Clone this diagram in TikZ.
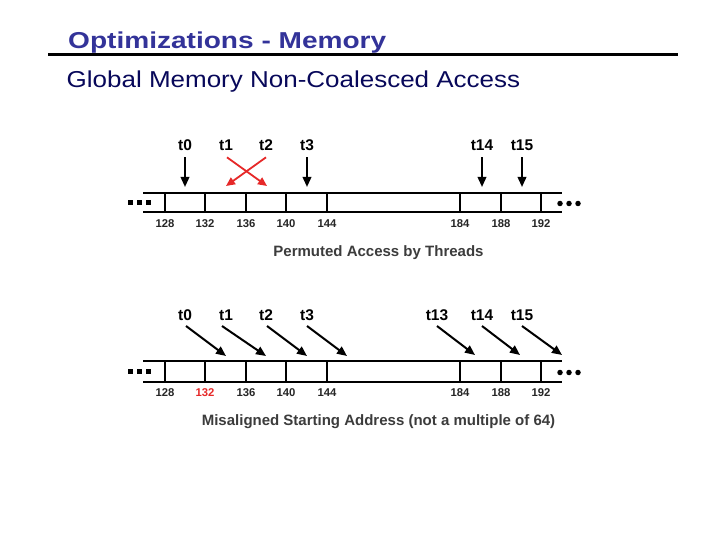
\documentclass[tikz,border=0pt]{standalone}
\usepackage{fontspec}
\setmainfont{Liberation Sans}
\newfontfamily\titlefont[FakeStretch=1.22]{Liberation Sans}
\newfontfamily\subfont[FakeStretch=1.13]{Liberation Sans}
\usetikzlibrary{arrows.meta}
\definecolor{titleblue}{RGB}{51,51,153}
\definecolor{subnavy}{RGB}{8,8,90}
\definecolor{capgray}{RGB}{60,60,60}
\definecolor{accred}{RGB}{230,40,40}
\begin{document}
\begin{tikzpicture}[x=1pt,y=-1pt,
  thr/.style={font=\fontsize{15.5}{15.5}\selectfont\bfseries, anchor=base, inner sep=0pt},
  addr/.style={font=\fontsize{11.3}{11.3}\selectfont\bfseries, anchor=base, inner sep=0pt, text=black!85},
  capt/.style={font=\fontsize{15}{15}\selectfont\bfseries, text=capgray, anchor=base, inner sep=0pt},
  acc/.style={-{Triangle[length=10pt,width=8.5pt]}, line width=2pt, draw=black},
  racc/.style={-{Triangle[length=9pt,width=8pt]}, line width=1.8pt, draw=accred},
  strip/.style={line width=2.2pt},
  sqdot/.style={fill=black, minimum size=5pt, inner sep=0pt},
  rddot/.style={fill=black, circle, minimum size=5.5pt, inner sep=0pt}]
\useasboundingbox (0,0) rectangle (720,540);
\fill[white] (0,0) rectangle (720,540);

% title
\draw[line width=3.5pt] (48,54.5) -- (678,54.5);
\node[anchor=base west, inner sep=0pt, text=titleblue,
  font=\titlefont\fontsize{23}{23}\selectfont\bfseries] (title) at (68,48.8) {Optimizations - Memory};
\node[anchor=base west, inner sep=0pt, text=subnavy,
  font=\subfont\fontsize{23}{23}\selectfont] (subtitle) at (66.5,87.7) {Global Memory Non-Coalesced Access};

% ---------- top strip ----------
\draw[strip] (143,193) -- (562,193);
\draw[strip] (143,212) -- (562,212);
\foreach \x in {165,205,246,286,327,460,501,541}
  \draw[strip] (\x,193) -- (\x,212);
\node[sqdot] (ld1) at (130,202.5) {};
\node[sqdot] (ld2) at (139,202.5) {};
\node[sqdot] (ld3) at (148,202.5) {};
\node[rddot] (rd1) at (560,203.5) {};
\node[rddot] (rd2) at (569,203.5) {};
\node[rddot] (rd3) at (578,203.5) {};

\node[thr] (a0) at (185,151) {t0};
\node[thr] (a1) at (226,151) {t1};
\node[thr] (a2) at (266,151) {t2};
\node[thr] (a3) at (307,151) {t3};
\node[thr] (a14) at (482,151) {t14};
\node[thr] (a15) at (522,151) {t15};

\coordinate (ae0) at (185,187);
\coordinate (ae1) at (267,186);
\coordinate (ae2) at (226,186);
\coordinate (ae3) at (307,187);
\coordinate (ae14) at (482,187);
\coordinate (ae15) at (522,187);
\draw[acc] ([yshift=-6pt]a0.south) -- (ae0);
\draw[acc] ([yshift=-6pt]a3.south) -- (ae3);
\draw[acc] ([yshift=-6pt]a14.south) -- (ae14);
\draw[acc] ([yshift=-6pt]a15.south) -- (ae15);
\draw[racc] ([xshift=1pt,yshift=-6pt]a1.south) -- (ae1);
\draw[racc] ([yshift=-6pt]a2.south) -- (ae2);

\foreach \x/\t in {165/128,205/132,246/136,286/140,327/144,460/184,501/188,541/192}
  \node[addr] (pa\t) at (\x,228) {\t};
\node[capt] (cap1) at (378.5,256) {Permuted Access by Threads};

% ---------- bottom strip ----------
\draw[strip] (143,361) -- (562,361);
\draw[strip] (143,382) -- (562,382);
\foreach \x in {165,205,246,286,327,460,501,541}
  \draw[strip] (\x,361) -- (\x,382);
\node[sqdot] (bld1) at (130,371.5) {};
\node[sqdot] (bld2) at (139,371.5) {};
\node[sqdot] (bld3) at (148,371.5) {};
\node[rddot] (brd1) at (560,372.5) {};
\node[rddot] (brd2) at (569,372.5) {};
\node[rddot] (brd3) at (578,372.5) {};

\node[thr] (b0) at (185,320.5) {t0};
\node[thr] (b1) at (226,320.5) {t1};
\node[thr] (b2) at (266,320.5) {t2};
\node[thr] (b3) at (307,320.5) {t3};
\node[thr] (b13) at (437,320.5) {t13};
\node[thr] (b14) at (482,320.5) {t14};
\node[thr] (b15) at (522,320.5) {t15};

\coordinate (bs0) at (186,326);  \coordinate (be0) at (226,356);
\coordinate (bs1) at (222,326);  \coordinate (be1) at (266,356);
\coordinate (bs2) at (267,326);  \coordinate (be2) at (307,356);
\coordinate (bs3) at (307,326);  \coordinate (be3) at (347,356);
\coordinate (bs13) at (437,326); \coordinate (be13) at (475,355);
\coordinate (bs14) at (482,326); \coordinate (be14) at (520,355);
\coordinate (bs15) at (522,326); \coordinate (be15) at (562,355);
\foreach \i in {0,1,2,3,13,14,15}
  \draw[acc] (bs\i) -- (be\i);

\foreach \x/\t in {165/128,246/136,286/140,327/144,460/184,501/188,541/192}
  \node[addr] (qa\t) at (\x,396) {\t};
\node[addr, text=accred] (qa132) at (205,396) {132};
\node[capt] (cap2) at (378.5,425.5) {Misaligned Starting Address (not a multiple of 64)};
\end{tikzpicture}
\end{document}
